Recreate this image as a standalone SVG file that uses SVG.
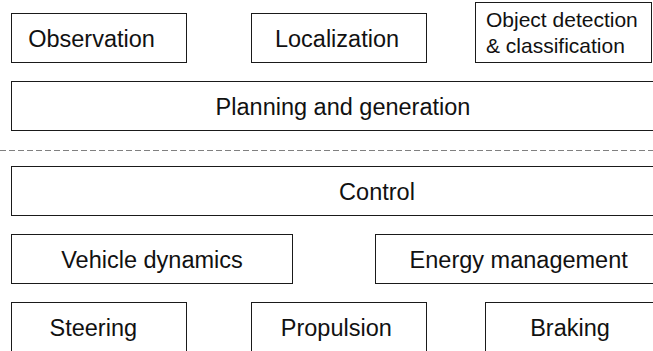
<svg xmlns="http://www.w3.org/2000/svg" width="653" height="351" viewBox="0 0 653 351">
<style>
.box{fill:#fff;stroke:#1a1a1a;stroke-width:1}
.t{font-family:"Liberation Sans",Arial,sans-serif;font-size:23.5px;fill:#111;text-anchor:middle}
.s{font-family:"Liberation Sans",Arial,sans-serif;font-size:21px;fill:#111}
.sep{stroke:#808080;stroke-width:1.2;stroke-dasharray:6 3;fill:none}
</style>
<rect width="653" height="351" fill="#fff"/>
<g id="observation"><rect class="box" x="11.5" y="13.5" width="175" height="49"/><text class="t" x="91.5" y="46.5">Observation</text></g>
<g id="localization"><rect class="box" x="251.5" y="13.5" width="175" height="49"/><text class="t" x="337" y="46.5">Localization</text></g>
<g id="object-detection"><rect class="box" x="475.5" y="2.5" width="176" height="60"/><text class="s" x="486" y="27.3">Object detection</text><text class="s" x="486" y="53.3">&amp; classification</text></g>
<g id="planning"><rect class="box" x="11.5" y="81.5" width="660" height="49"/><text class="t" x="343" y="114.5">Planning and generation</text></g>
<g id="connectors"><line class="sep" x1="0" y1="150.5" x2="653" y2="150.5"/></g>
<g id="control"><rect class="box" x="11.5" y="166.5" width="680" height="49"/><text class="t" x="377" y="199.5">Control</text></g>
<g id="vehicle-dynamics"><rect class="box" x="11.5" y="234.5" width="281" height="49"/><text class="t" x="152" y="267.5">Vehicle dynamics</text></g>
<g id="energy-management"><rect class="box" x="375.5" y="234.5" width="300" height="49"/><text class="t" x="518.7" y="267.5">Energy management</text></g>
<g id="steering"><rect class="box" x="11.5" y="302.5" width="175" height="60"/><text class="t" x="93.3" y="335.5">Steering</text></g>
<g id="propulsion"><rect class="box" x="251.5" y="302.5" width="175" height="60"/><text class="t" x="336.3" y="335.5">Propulsion</text></g>
<g id="braking"><rect class="box" x="485.5" y="302.5" width="200" height="60"/><text class="t" x="570" y="335.5">Braking</text></g>
</svg>
